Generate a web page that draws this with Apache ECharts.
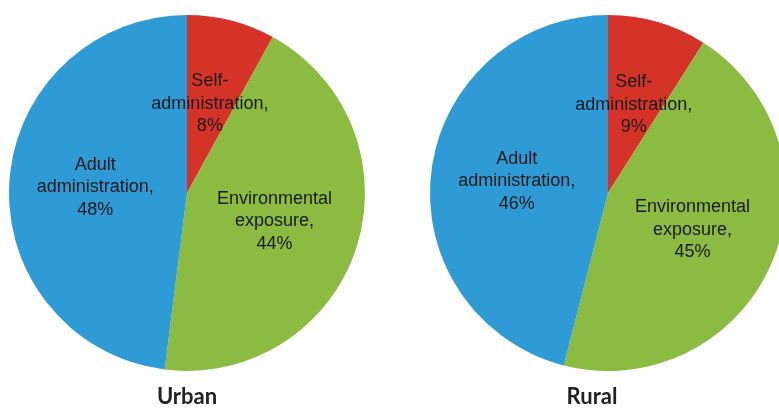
<!DOCTYPE html>
<html>
<head>
<meta charset="utf-8">
<script src="https://cdn.jsdelivr.net/npm/echarts@6/dist/echarts.min.js"></script>
<style>
  html, body { margin: 0; padding: 0; background: #ffffff; }
  #chart { width: 779px; height: 408px; }
</style>
</head>
<body>
<div id="chart"></div>
<script>
// Source of exposure, shares in percent (clockwise from 12 o'clock)
const categories = ['Self-\nadministration', 'Environmental\nexposure', 'Adult\nadministration'];
const urbanValues = [8, 44, 48];
const ruralValues = [9, 45, 46];
const panelTitles = ['Urban', 'Rural'];
const sliceColors = ['#d63328', '#8bbb40', '#2e9ad6'];

function toData(values) {
  return categories.map((c, i) => ({ name: c, value: values[i], itemStyle: { color: sliceColors[i] } }));
}

function pieSeries(values, center) {
  return {
    type: 'pie',
    center: center,
    radius: 178,
    startAngle: 90,
    clockwise: true,
    silent: true,
    animation: false,
    data: toData(values),
    label: {
      show: true,
      position: 'inside',
      formatter: p => p.name + ',\n' + p.value + '%',
      fontFamily: '"Liberation Sans", Arial, sans-serif',
      fontSize: 18,
      lineHeight: 22.5,
      color: '#1a1a1a',
      align: 'center'
    },
    labelLine: { show: false },
    itemStyle: { borderWidth: 0 }
  };
}

const chart = echarts.init(document.getElementById('chart'), null, { renderer: 'canvas' });
chart.setOption({
  backgroundColor: '#ffffff',
  series: [
    pieSeries(urbanValues, [187, 193]),
    pieSeries(ruralValues, [608, 193])
  ],
  graphic: [
    { type: 'text', x: 187, y: 397, style: { text: panelTitles[0], font: 'bold 22px Lato, sans-serif', fill: '#222222', textAlign: 'center', textVerticalAlign: 'middle' } },
    { type: 'text', x: 592, y: 397, style: { text: panelTitles[1], font: 'bold 22px Lato, sans-serif', fill: '#222222', textAlign: 'center', textVerticalAlign: 'middle' } }
  ]
});
</script>
</body>
</html>
